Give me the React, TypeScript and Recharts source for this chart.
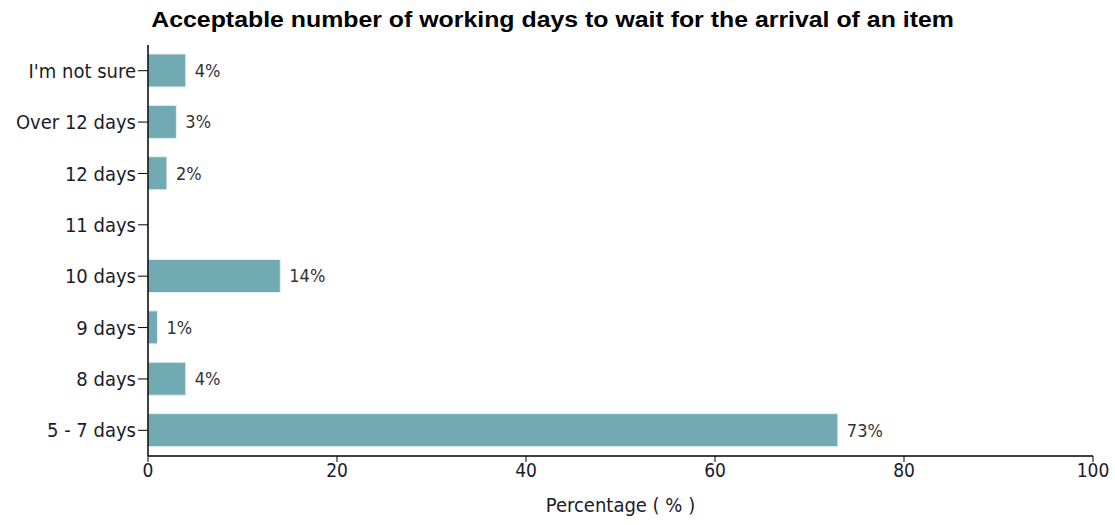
import { BarChart, Bar, XAxis, YAxis, LabelList, Label } from 'recharts';

// survey answers, top row first as in the picture
const categories = ["I'm not sure", 'Over 12 days', '12 days', '11 days', '10 days', '9 days', '8 days', '5 - 7 days'];
const percentages = [4, 3, 2, 0, 14, 1, 4, 73];
const xTicks = [0, 20, 40, 60, 80, 100];

const data = categories.map((name, i) => ({ name, value: percentages[i] }));

const axisFont = { fontFamily: 'DejaVu Sans Condensed', fontSize: 20, fill: '#1b1b2b' };

export default function App() {
  return (
    <div style={{ position: 'absolute', left: 0, top: 0, width: 1115, height: 525, background: '#fff' }}>
      <div
        style={{
          position: 'absolute',
          left: 0,
          width: 1105,
          top: 7,
          textAlign: 'center',
          fontFamily: 'Liberation Sans',
          fontWeight: 'bold',
          fontSize: 22,
          color: '#000',
          transform: 'scaleX(1.13)',
          transformOrigin: '552px 0',
        }}
      >
        Acceptable number of working days to wait for the arrival of an item
      </div>
      <BarChart
        width={1115}
        height={525}
        data={data}
        layout="vertical"
        margin={{ top: 45, right: 22, bottom: 9, left: 0 }}
        barCategoryGap={9}
      >
        <XAxis
          type="number"
          domain={[0, 100]}
          ticks={xTicks}
          height={60}
          tick={{ ...axisFont, fontSize: 19 }}
          tickLine={{ stroke: '#000' }}
          axisLine={{ stroke: '#000', strokeWidth: 1.5 }}
          tickSize={6}
        >
          <Label value="Percentage ( % )" position="insideBottom" offset={4} style={axisFont} />
        </XAxis>
        <YAxis
          type="category"
          dataKey="name"
          width={148}
          tick={axisFont}
          tickLine={{ stroke: '#000' }}
          axisLine={{ stroke: '#000', strokeWidth: 1.5 }}
          tickSize={10}
          interval={0}
        />
        <Bar dataKey="value" fill="#71aab2" stroke="#e3f0f1" strokeWidth={1} isAnimationActive={false}>
          <LabelList
            dataKey="value"
            position="right"
            offset={9}
            formatter={(v: number) => (v > 0 ? `${v}%` : '')}
            style={{ fontFamily: 'DejaVu Sans Condensed', fontSize: 18, fill: '#333' }}
          />
        </Bar>
      </BarChart>
    </div>
  );
}
